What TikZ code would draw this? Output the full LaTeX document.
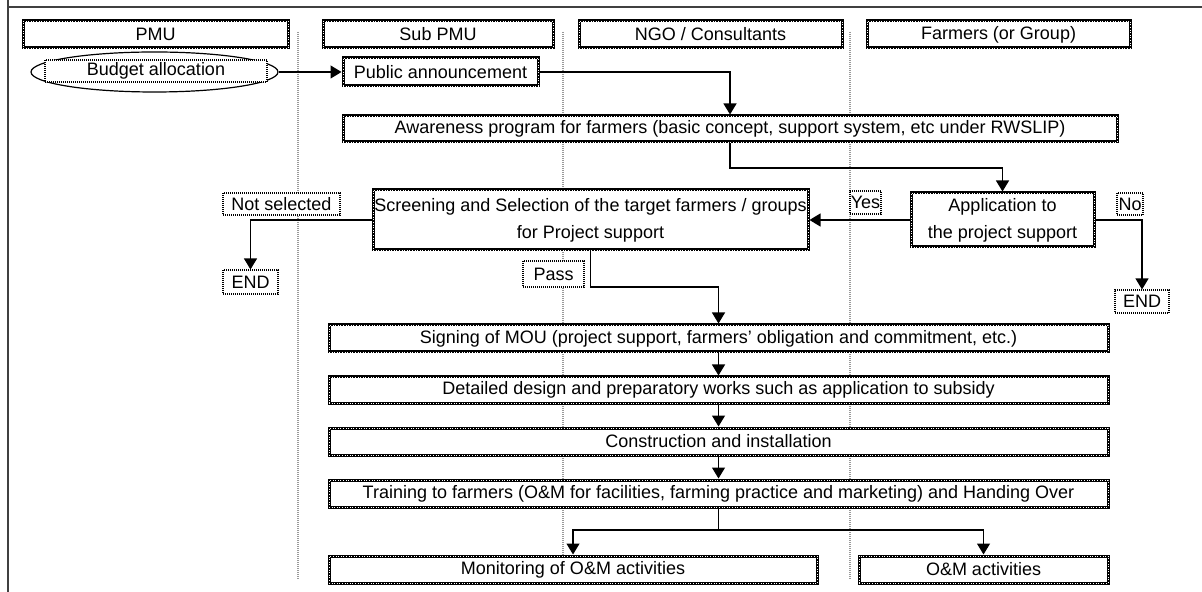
\documentclass[tikz,border=0pt]{standalone}
\usepackage{fontspec}
\setmainfont{Liberation Sans}
\usetikzlibrary{arrows.meta,shapes.geometric}

\begin{document}
\begin{tikzpicture}[x=0.5pt,y=-0.5pt,
  font=\fontsize{9}{13.5}\selectfont,
  % hatched frame border of the process boxes
  procbox/.style={draw=black, line width=1.5pt, fill=white, inner sep=0pt, align=center,
    postaction={draw=white, line width=0.25pt, dash pattern=on 0.3pt off 1pt}},
  % thin dotted frame of the small labels
  lbl/.style={draw=black, line width=0.55pt, dash pattern=on 0.5pt off 0.5pt,
    fill=white, inner sep=0pt, align=center},
  sz/.style 2 args={minimum width=#1, minimum height=#2},
  lane/.style={draw=black!40, line width=1.2pt, dash pattern=on 0.5pt off 0.5pt},
  arr/.style={draw=black, line width=0.6pt, -{Triangle[width=6.5pt,length=5.5pt]}},
  link/.style={draw=black, line width=0.6pt}]

\useasboundingbox (0,0) rectangle (1202,592);

% outer frame (top and left edges)
\draw[draw=black!75, line width=1pt] (8,592) -- (8,0);
\draw[draw=black!75, line width=1pt] (8,7) -- (1202,7);

% lane separators
\draw[lane] (298,32) -- (298,580);
\draw[lane] (563,32) -- (563,580);
\draw[lane] (850,32) -- (850,580);

% lane headers
\node[procbox, sz={132.5pt}{13.5pt}] (hpmu) at (155.5,34.5) {PMU};
\node[procbox, sz={115pt}{13.5pt}] (hsub) at (438,34.5) {Sub PMU};
\node[procbox, sz={131.5pt}{13.5pt}] (hngo) at (710.5,34.5) {NGO / Consultants};
\node[procbox, sz={131.5pt}{13.5pt}] (hfarm) at (998.5,34.5) {Farmers (or Group)};

% start: budget allocation
\node[draw=black, line width=0.6pt, ellipse, sz={123.5pt}{20pt}, inner sep=0pt]
  (budget) at (154.5,72) {};
\node[lbl, sz={111pt}{11pt}] (budgettxt) at (156,71) {Budget allocation};

% process boxes
\node[procbox, sz={97.5pt}{14pt}] (pub) at (440.5,72) {Public announcement};
\node[procbox, sz={387pt}{13pt}] (aware) at (730,129)
  {Awareness program for farmers (basic concept, support system, etc under RWSLIP)};
\node[procbox, sz={91.5pt}{27pt}] (app) at (1002.5,220) {Application to\\the project support};
\node[procbox, sz={217.5pt}{30pt}] (screen) at (590.5,220)
  {Screening and Selection of the target farmers / groups\\for Project support};
\node[procbox, sz={389.5pt}{13.5pt}] (sign) at (718.5,338.5)
  {Signing of MOU (project support, farmers' obligation and commitment, etc.)};
\node[procbox, sz={389.5pt}{13pt}] (detail) at (718.5,390)
  {Detailed design and preparatory works such as application to subsidy};
\node[procbox, sz={389.5pt}{13.5pt}] (constr) at (718.5,441.5) {Construction and installation};
\node[procbox, sz={389.5pt}{13.5pt}] (train) at (718.5,493.5)
  {Training to farmers (O\&M for facilities, farming practice and marketing) and Handing Over};
\node[procbox, sz={244pt}{13.5pt}] (mon) at (573,569.5) {Monitoring of O\&M activities};
\node[procbox, sz={124.5pt}{13.5pt}] (om) at (983.5,569.5) {O\&M activities};

% decision labels and end points
\node[lbl, sz={15.5pt}{11.5pt}] (yes) at (865.5,202.5) {Yes};
\node[lbl, sz={13pt}{11pt}] (no) at (1130,204) {No};
\node[lbl, sz={58.5pt}{11pt}] (notsel) at (281.5,204) {Not selected};
\node[lbl, sz={30.5pt}{13pt}] (pass) at (553.5,274) {Pass};
\node[lbl, sz={27.5pt}{12pt}] (endl) at (250.5,282) {END};
\node[lbl, sz={27pt}{11.5pt}] (endr) at (1142,301.5) {END};

% bend levels of the connectors
\coordinate (k1) at (0,168);
\coordinate (k2) at (0,287);
\coordinate (k3) at (0,530);

% connectors
\draw[arr] (budget.east) -- (pub.west);
\draw[arr] (pub.east) -| (aware.north);
\draw[arr] (aware.south) -- (aware.south |- k1) -| (app.north);
\draw[arr] (app.west) -- (screen.east);
\draw[arr] (app.east) -| (endr.north);
\draw[arr] (screen.west) -| (endl.north);
\draw[arr] (screen.south) -- (screen.south |- k2) -| (sign.north);
\draw[arr] (sign.south) -- (detail.north);
\draw[arr] (detail.south) -- (constr.north);
\draw[arr] (constr.south) -- (train.north);
\draw[link] (train.south) -- (train.south |- k3);
\draw[arr] (train.south |- k3) -| (mon.north);
\draw[arr] (train.south |- k3) -| (om.north);

\end{tikzpicture}
\end{document}
